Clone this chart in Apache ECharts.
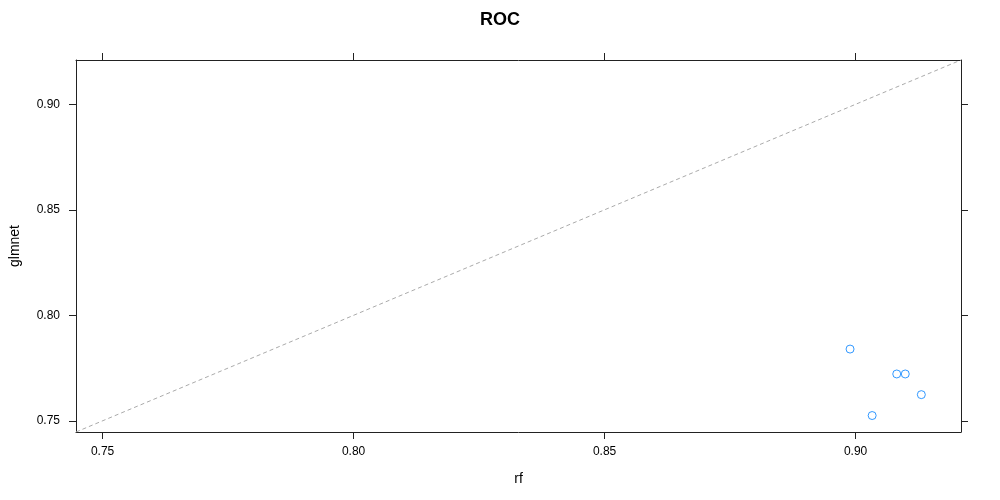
<!DOCTYPE html>
<html>
<head>
<meta charset="utf-8">
<script src="https://cdn.jsdelivr.net/npm/echarts@6/dist/echarts.min.js"></script>
<style>
  html, body { margin: 0; padding: 0; background: #fff; }
  #chart { width: 1000px; height: 500px; }
</style>
</head>
<body>
<div id="chart"></div>
<script>
// values (one point per resample)
const rf = [0.8989, 0.9082, 0.9099, 0.9131, 0.9033];
const glmnet = [0.7840, 0.7722, 0.7722, 0.7624, 0.7525];
const tickValues = [0.75, 0.80, 0.85, 0.90];
// shared panel range (lattice pads the data range a little)
const axisRange = [0.7447, 0.9210];

const font = 'Liberation Sans, Arial, sans-serif';

const chart = echarts.init(document.getElementById('chart'));

const baseX = {
  type: 'value',
  min: axisRange[0],
  max: axisRange[1],
  splitLine: { show: false },
  axisLine: { show: true, onZero: false, lineStyle: { color: '#222', width: 1 } },
  axisTick: { show: true, inside: false, length: 7, customValues: tickValues, lineStyle: { color: '#222' } }
};

chart.setOption({
  animation: false,
  backgroundColor: '#fff',
  title: {
    text: 'ROC',
    left: 'center',
    top: 6,
    textStyle: { fontFamily: font, fontSize: 18, fontWeight: 'bold', color: '#000' }
  },
  grid: { left: 75, right: 39, top: 60, bottom: 68 },
  xAxis: [
    Object.assign({}, baseX, {
      position: 'bottom',
      name: 'rf',
      nameLocation: 'middle',
      nameGap: 40,
      nameTextStyle: { fontFamily: font, fontSize: 14, color: '#000' },
      axisLabel: {
        show: true, margin: 14, customValues: tickValues,
        fontFamily: font, fontSize: 12, color: '#000',
        formatter: v => v.toFixed(2)
      }
    }),
    Object.assign({}, baseX, { position: 'top', axisLabel: { show: false } })
  ],
  yAxis: [
    Object.assign({}, baseX, {
      position: 'left',
      name: 'glmnet',
      nameLocation: 'middle',
      nameGap: 54,
      nameRotate: 90,
      nameTextStyle: { fontFamily: font, fontSize: 14, color: '#000' },
      axisLabel: {
        show: true, margin: 16, customValues: tickValues,
        fontFamily: font, fontSize: 12, color: '#000',
        formatter: v => v.toFixed(2)
      }
    }),
    Object.assign({}, baseX, { position: 'right', axisLabel: { show: false } })
  ],
  series: [
    {
      type: 'line',
      data: [[axisRange[0], axisRange[0]], [axisRange[1], axisRange[1]]],
      symbol: 'none',
      silent: true,
      lineStyle: { color: '#aaa', width: 1, type: [4, 3] }
    },
    {
      type: 'scatter',
      data: rf.map((v, i) => [v, glmnet[i]]),
      symbol: 'circle',
      symbolSize: 8,
      itemStyle: { color: '#fff', borderColor: '#0080ff', borderWidth: 1 }
    }
  ]
});
</script>
</body>
</html>
